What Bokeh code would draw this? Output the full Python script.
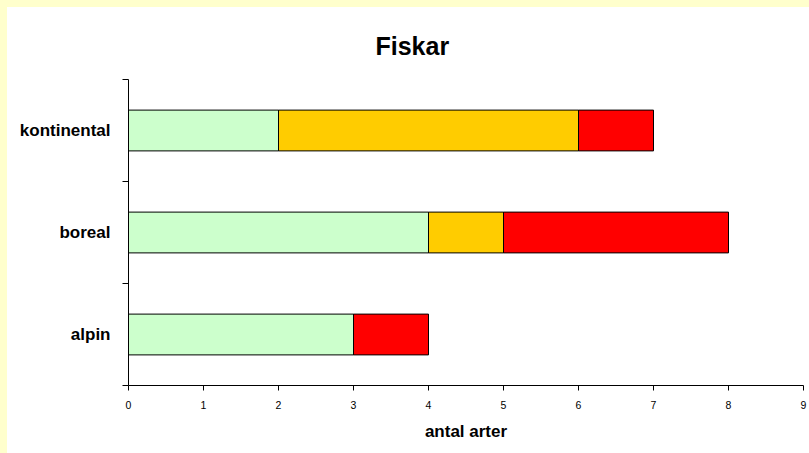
from bokeh.plotting import figure
from bokeh.models import FixedTicker, Range1d, ColumnDataSource, Spacer
from bokeh.layouts import column, row
from bokeh.embed import file_html
from bokeh.resources import INLINE

title_text = "Fiskar"
categories = ["alpin", "boreal", "kontinental"]
gron = [3, 4, 2]
gul = [0, 1, 4]
rod = [1, 3, 1]
colors = ["#CCFFCC", "#FFCC00", "#FF0000"]
x_ticks = list(range(0, 10))

ypos = [i + 0.5 for i in range(len(categories))]
src = ColumnDataSource(dict(y=ypos, gron=gron, gul=gul, rod=rod))

W, H = 802, 446
BL, BR, BT, BB = 121, 6, 72, 68
p = figure(width=W, height=H, output_backend="svg", toolbar_location=None,
           x_range=Range1d(0, 9), y_range=Range1d(0, len(categories)),
           min_border_left=BL, min_border_right=BR, min_border_top=BT, min_border_bottom=BB,
           title=title_text)
p.hbar_stack(["gron", "gul", "rod"], y="y", height=0.4, source=src,
             fill_color=colors, line_color="black", line_width=1)

p.title.align = "left"
p.title.offset = 247
p.title.vertical_align = "top"
p.title.text_font = "Liberation Sans"
p.title.text_font_size = "25px"
p.title.text_font_style = "bold"
p.title.text_color = "black"
p.title.standoff = 36

p.xgrid.visible = False
p.ygrid.visible = False
p.outline_line_color = None
p.background_fill_color = "white"
p.border_fill_color = "white"

xa = p.xaxis[0]
xa.ticker = FixedTicker(ticks=x_ticks)
xa.axis_label = "antal arter"
xa.axis_label_text_font = "Liberation Sans"
xa.axis_label_text_font_size = "17px"
xa.axis_label_text_font_style = "bold"
xa.axis_label_text_color = "black"
xa.major_label_text_font = "Liberation Sans"
xa.major_label_text_font_size = "10.5px"
xa.major_label_text_color = "black"
xa.major_tick_out = 5
xa.major_tick_in = 0
xa.minor_tick_line_color = None
xa.axis_line_color = "black"
xa.major_tick_line_color = "black"
xa.major_label_standoff = 10
xa.axis_label_standoff = 10

ya = p.yaxis[0]
ya.ticker = FixedTicker(ticks=ypos, minor_ticks=list(range(len(categories) + 1)))
ya.major_label_overrides = {v: c for v, c in zip(ypos, categories)}
ya.major_label_text_font = "Liberation Sans"
ya.major_label_text_font_size = "17px"
ya.major_label_text_font_style = "bold"
ya.major_label_text_color = "black"
ya.major_tick_out = 0
ya.major_tick_in = 0
ya.minor_tick_out = 6
ya.minor_tick_in = 0
ya.minor_tick_line_color = "black"
ya.axis_line_color = "black"
ya.major_label_standoff = 12

yellow = {"background-color": "#FFFFCC"}
layout = column(
    Spacer(width=809, height=7, styles=yellow),
    row(Spacer(width=7, height=H, styles=yellow), p, spacing=0),
    spacing=0,
)

html = file_html(layout, INLINE)
open("out.html", "w").write(html)
